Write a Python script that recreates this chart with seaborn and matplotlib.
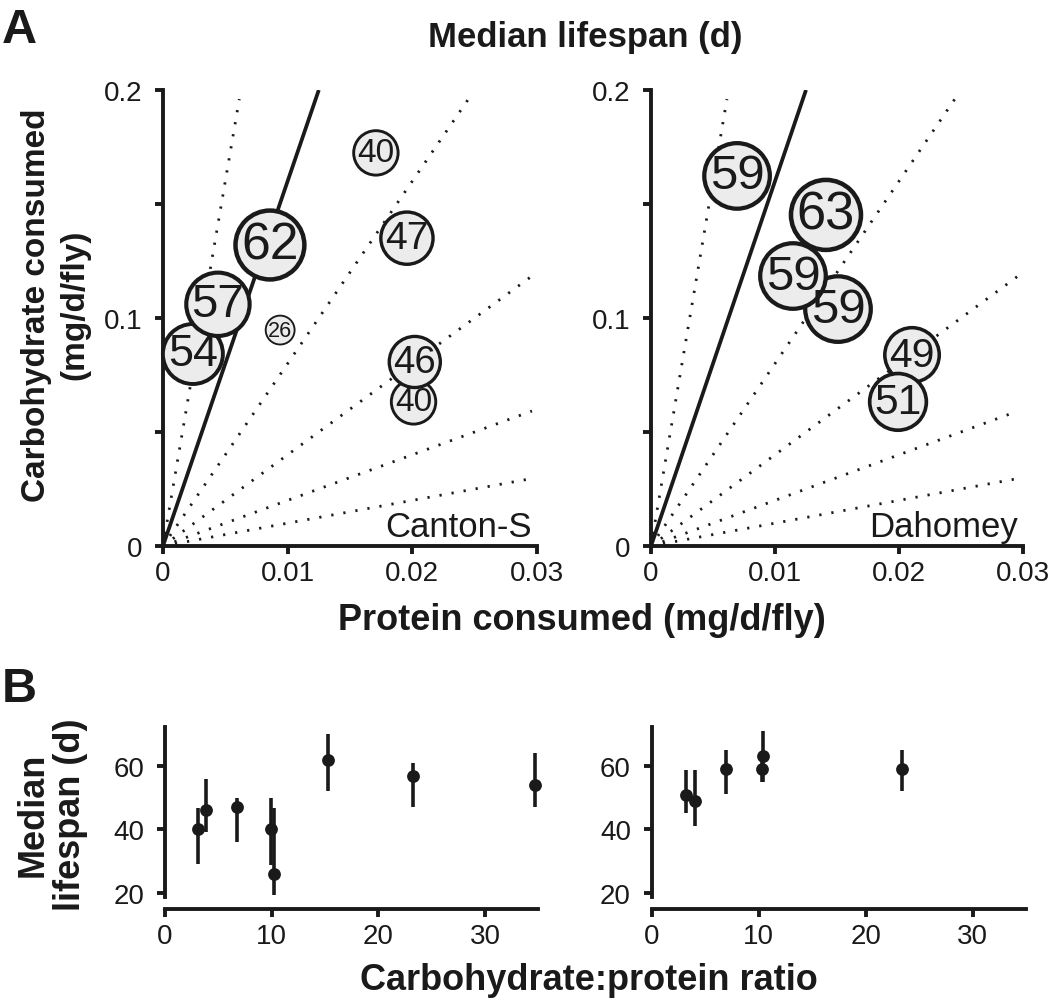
import numpy as np
import pandas as pd
import matplotlib
matplotlib.use('Agg')
import matplotlib.pyplot as plt
import seaborn as sns

# Panel A: intake per strain (bubble label = median lifespan, days)
canton_protein = [0.0024, 0.00441, 0.00858, 0.0201, 0.0202, 0.0094, 0.01708, 0.01957]
canton_carb = [0.0842, 0.106, 0.132, 0.0632, 0.0807, 0.0947, 0.1724, 0.135]
canton_lifespan = [54, 57, 62, 40, 46, 26, 40, 47]

dahomey_protein = [0.01411, 0.01508, 0.01145, 0.00694, 0.02105, 0.01992]
dahomey_carb = [0.1452, 0.1039, 0.1184, 0.1623, 0.0838, 0.0632]
dahomey_lifespan = [63, 59, 59, 59, 49, 51]

# carbohydrate:protein reference rays
dotted_ratios = [1, 2, 4, 8, 32]
solid_ratio = 16

# Panel B: median lifespan vs C:P ratio with error bars
canton_ratio = [3.06, 3.81, 6.72, 9.9, 10.25, 15.3, 23.27, 34.7]
canton_median = [40, 46, 47, 40, 26, 62, 57, 54]
canton_upper = [46.7, 55.9, 49.9, 49.9, 46.7, 70.1, 60.9, 64.1]
canton_lower = [29.1, 39.1, 36.0, 28.9, 19.2, 52.2, 47.0, 47.0]

dahomey_ratio = [3.18, 4.06, 6.96, 10.3, 10.45, 23.4]
dahomey_median = [51, 49, 59, 59, 63, 59]
dahomey_upper = [58.8, 58.8, 65.0, 64.4, 71.1, 65.0]
dahomey_lower = [45.1, 41.0, 51.2, 55.0, 55.0, 52.2]

sns.set_theme(style='ticks')
plt.rcParams['font.family'] = ['Liberation Sans', 'DejaVu Sans']

SPINE_LW = 2.8
TICK_FS = 20


def style_axes(ax):
    sns.despine(ax=ax)
    for s in ['left', 'bottom']:
        ax.spines[s].set_linewidth(SPINE_LW)
        ax.spines[s].set_color('k')
    ax.tick_params(direction='out', length=6, width=SPINE_LW, labelsize=TICK_FS,
                   color='k', labelcolor='k')
    ax.tick_params(axis='y', pad=9)
    ax.tick_params(axis='x', pad=4)
    ax.set_xlabel('')
    ax.set_ylabel('')


def draw_bubbles(ax, protein, carb, lifespan, strain):
    for r in dotted_ratios:
        xe = min(0.0296, 0.196 / r)
        ax.plot([0, xe], [0, xe * r], color='k', lw=2.0, ls=(0, (0.8, 3.6)), zorder=1)
    ax.plot([0, 0.2 / solid_ratio], [0, 0.2], color='k', lw=2.7, zorder=1,
            solid_capstyle='butt')

    df = pd.DataFrame({'protein': protein, 'carb': carb, 'lifespan': lifespan})
    sizes = {L: (0.80 * L) ** 2 for L in set(lifespan)}
    sns.scatterplot(data=df, x='protein', y='carb', size='lifespan', sizes=sizes,
                    color='#ececec', edgecolor='k', legend=False, ax=ax,
                    zorder=3, clip_on=False)
    ax.collections[-1].set_linewidths([L * 0.052 for L in lifespan])
    for x, y, L in zip(protein, carb, lifespan):
        ax.text(x, y, str(L), ha='center', va='center', fontsize=0.6 * L,
                zorder=4, color='k')

    ax.text(0.0296, 0.0044, strain, ha='right', va='baseline', fontsize=25, color='k')
    ax.set_xlim(0, 0.03)
    ax.set_ylim(0, 0.2)
    ax.set_xticks([0, 0.01, 0.02, 0.03])
    ax.set_xticklabels(['0', '0.01', '0.02', '0.03'])
    ax.set_yticks([0, 0.05, 0.1, 0.15, 0.2])
    ax.set_yticklabels(['0', '', '0.1', '', '0.2'])
    style_axes(ax)


def draw_ratio(ax, ratio, median, upper, lower):
    med = np.array(median, dtype=float)
    yerr = [med - np.array(lower), np.array(upper) - med]
    ax.errorbar(ratio, med, yerr=yerr, fmt='none', ecolor='k', elinewidth=2.6,
                capsize=0, zorder=2)
    sns.scatterplot(x=ratio, y=med, color='k', s=85, edgecolor='k', linewidth=0,
                    ax=ax, zorder=3, clip_on=False)
    ax.set_xlim(0, 35)
    ax.set_ylim(18.7, 72.3)
    ax.set_xticks([0, 10, 20, 30])
    ax.set_yticks([20, 40, 60])
    style_axes(ax)
    ax.spines['bottom'].set_position(('outward', 9))


fig = plt.figure(figsize=(10.5, 10.04), dpi=100)

ax_a1 = fig.add_axes([0.1552, 0.4552, 0.3562, 0.4542])
ax_a2 = fig.add_axes([0.6200, 0.4552, 0.3543, 0.4542])
ax_b1 = fig.add_axes([0.1571, 0.1056, 0.3557, 0.1693])
ax_b2 = fig.add_axes([0.6207, 0.1056, 0.3565, 0.1693])

draw_bubbles(ax_a1, canton_protein, canton_carb, canton_lifespan, 'Canton-S')
draw_bubbles(ax_a2, dahomey_protein, dahomey_carb, dahomey_lifespan, 'Dahomey')
draw_ratio(ax_b1, canton_ratio, canton_median, canton_upper, canton_lower)
draw_ratio(ax_b2, dahomey_ratio, dahomey_median, dahomey_upper, dahomey_lower)

bold = dict(fontweight='bold', color='k')
fig.text(0.002, 1 - 43 / 1004, 'A', fontsize=35, va='baseline', **bold)
fig.text(0.002, 1 - 702 / 1004, 'B', fontsize=35, va='baseline', **bold)
fig.text(585 / 1050, 1 - 47 / 1004, 'Median lifespan (d)', ha='center', va='baseline',
         fontsize=25, **bold)
fig.text(56 / 1050, 1 - 305 / 1004, 'Carbohydrate consumed\n(mg/d/fly)', rotation=90,
         ha='center', va='center', fontsize=24, linespacing=1.3, **bold)
fig.text(582 / 1050, 1 - 630 / 1004, 'Protein consumed (mg/d/fly)', ha='center',
         va='baseline', fontsize=26, **bold)
fig.text(52 / 1050, 1 - 815 / 1004, 'Median\nlifespan (d)', rotation=90, ha='center',
         va='center', fontsize=26, linespacing=1.1, **bold)
fig.text(589 / 1050, 1 - 990 / 1004, 'Carbohydrate:protein ratio', ha='center',
         va='baseline', fontsize=26, **bold)

fig.savefig('out.png', dpi=100)
